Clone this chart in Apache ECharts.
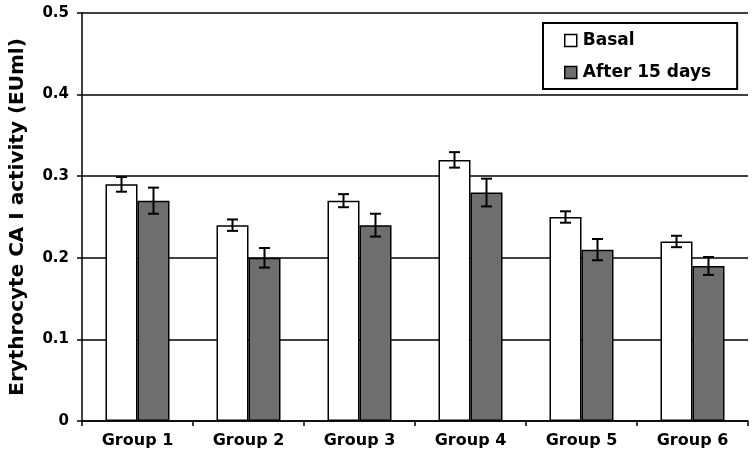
<!DOCTYPE html>
<html>
<head>
<meta charset="utf-8">
<script src="https://cdn.jsdelivr.net/npm/echarts@6/dist/echarts.min.js"></script>
<style>
html,body{margin:0;padding:0;background:#fff;}
#c{width:756px;height:465px;}
</style>
</head>
<body>
<div id="c"></div>
<script>
var categories = ['Group 1', 'Group 2', 'Group 3', 'Group 4', 'Group 5', 'Group 6'];
var basal = [0.29, 0.24, 0.27, 0.32, 0.25, 0.22];
var basalErr = [0.009, 0.007, 0.008, 0.0095, 0.007, 0.007];
var after15 = [0.27, 0.20, 0.24, 0.28, 0.21, 0.19];
var after15Err = [0.016, 0.012, 0.014, 0.017, 0.013, 0.011];
var yTicks = [0, 0.1, 0.2, 0.3, 0.4, 0.5];

var FONT = 'DejaVu Sans';
var BAR_W = 32;

function errSeries(name, vals, errs, offset) {
  return {
    type: 'custom',
    name: name + ' err',
    z: 10,
    silent: true,
    data: vals.map(function (v, i) { return [i, v, errs[i]]; }),
    renderItem: function (params, api) {
      var i = api.value(0), v = api.value(1), e = api.value(2);
      var hi = api.coord([i, v + e]);
      var lo = api.coord([i, v - e]);
      var x = hi[0] + offset;
      var cap = 5.5;
      var st = { stroke: '#000', lineWidth: 2 };
      return {
        type: 'group',
        children: [
          { type: 'line', shape: { x1: x, y1: hi[1], x2: x, y2: lo[1] }, style: st },
          { type: 'line', shape: { x1: x - cap, y1: hi[1], x2: x + cap, y2: hi[1] }, style: st },
          { type: 'line', shape: { x1: x - cap, y1: lo[1], x2: x + cap, y2: lo[1] }, style: st }
        ]
      };
    }
  };
}

var chart = echarts.init(document.getElementById('c'));
chart.setOption({
  animation: false,
  backgroundColor: '#fff',
  grid: { left: 82, right: 8, top: 13, bottom: 44, containLabel: false, outerBoundsMode: 'none' },
  legend: {
    data: [
      { name: 'Basal', itemStyle: { color: '#fff', borderColor: '#000', borderWidth: 1.5 } },
      { name: 'After 15 days', itemStyle: { color: '#6e6e6e', borderColor: '#000', borderWidth: 1.5 } }
    ],
    orient: 'vertical',
    left: 543,
    top: 23,
    padding: [9, 26, 8, 21],
    itemGap: 15,
    itemWidth: 12,
    itemHeight: 12,
    icon: 'rect',
    borderColor: '#000',
    borderWidth: 2,
    backgroundColor: '#fff',
    textStyle: { fontFamily: FONT, fontWeight: 'bold', fontSize: 17, color: '#000', padding: [0, 0, 0, 1] }
  },
  xAxis: {
    type: 'category',
    data: categories,
    axisLine: { lineStyle: { color: '#000', width: 1.5 } },
    axisTick: { show: true, length: 5, lineStyle: { color: '#000', width: 1.5 } },
    axisLabel: { fontFamily: FONT, fontWeight: 'bold', fontSize: 16, color: '#000', margin: 12 },
    splitLine: { show: false }
  },
  yAxis: {
    type: 'value',
    min: 0,
    max: 0.5,
    interval: 0.1,
    name: 'Erythrocyte CA I activity (EUml)',
    nameLocation: 'middle',
    nameGap: 54,
    nameTextStyle: { fontFamily: FONT, fontWeight: 'bold', fontSize: 20, color: '#000' },
    axisLine: { show: true, lineStyle: { color: '#000', width: 1.5 } },
    axisTick: { show: true, length: 5, lineStyle: { color: '#000', width: 1.5 } },
    axisLabel: {
      fontFamily: FONT, fontWeight: 'bold', fontSize: 15, color: '#000', margin: 13,
      formatter: function (v) {
        for (var k = 0; k < yTicks.length; k++) {
          if (Math.abs(v - yTicks[k]) < 1e-9) return v === 0 ? '0' : yTicks[k].toFixed(1);
        }
        return '';
      }
    },
    splitLine: { show: true, lineStyle: { color: '#000', width: 1.5 } }
  },
  series: [
    {
      name: 'Basal', type: 'bar', data: basal, barWidth: BAR_W, barGap: '0%',
      itemStyle: { color: '#fff', borderColor: '#000', borderWidth: 1.5 }
    },
    {
      name: 'After 15 days', type: 'bar', data: after15, barWidth: BAR_W, barGap: '0%',
      itemStyle: { color: '#6e6e6e', borderColor: '#000', borderWidth: 1.5 }
    },
    errSeries('Basal', basal, basalErr, -BAR_W / 2),
    errSeries('After 15 days', after15, after15Err, BAR_W / 2)
  ]
});
</script>
</body>
</html>
